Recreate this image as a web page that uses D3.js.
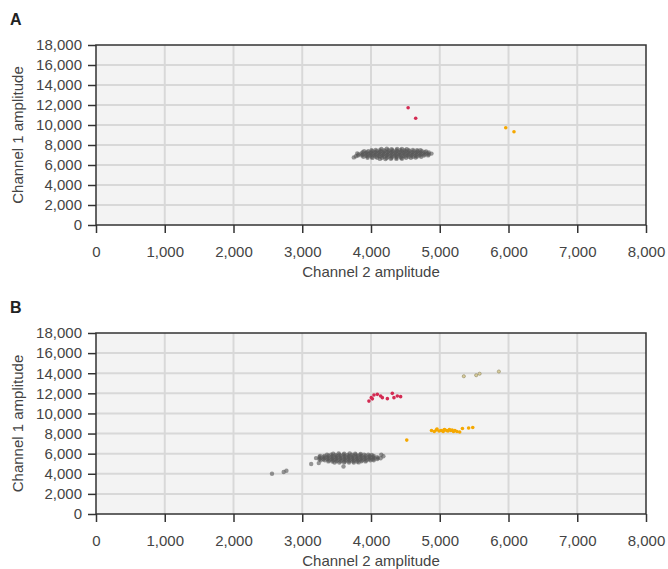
<!DOCTYPE html>
<html><head><meta charset="utf-8">
<script src="https://cdn.jsdelivr.net/npm/d3@7"></script>
<style>
html,body{margin:0;padding:0;background:#fff;}
svg{display:block;font-family:"Liberation Sans",Arial,Helvetica,sans-serif;}
</style></head>
<body><svg id="chart" width="668" height="569"></svg>
<script>
const xTicks = [0,1000,2000,3000,4000,5000,6000,7000,8000];
const yTicks = [0,2000,4000,6000,8000,10000,12000,14000,16000,18000];
const xLabel = "Channel 2 amplitude";
const yLabel = "Channel 1 amplitude";

const aGrey = [
 [4150,7600],[4230,7620],[4300,7590],[4380,7610],[4450,7600],[4520,7580],
 [4010,7480],[4070,7500],[4130,7490],[4190,7480],[4250,7500],[4310,7490],[4370,7480],[4430,7500],[4490,7490],[4550,7480],[4610,7500],[4670,7490],[4720,7470],
 [3900,7380],[3960,7370],[4020,7390],[4080,7380],[4140,7370],[4200,7390],[4260,7380],[4320,7370],[4380,7390],[4440,7380],[4500,7370],[4560,7390],[4620,7380],[4680,7370],[4740,7390],[4800,7360],
 [3880,7270],[3940,7280],[4000,7260],[4060,7270],[4120,7280],[4180,7260],[4240,7270],[4300,7280],[4360,7260],[4420,7270],[4480,7280],[4540,7260],[4600,7270],[4660,7280],[4720,7260],[4780,7270],[4840,7260],
 [3800,7160],[3860,7150],[3920,7170],[3980,7160],[4040,7150],[4100,7170],[4160,7160],[4220,7150],[4280,7170],[4340,7160],[4400,7150],[4460,7170],[4520,7160],[4580,7150],[4640,7170],[4700,7160],[4760,7150],[4820,7160],[4880,7140],
 [3820,7050],[3880,7040],[3940,7060],[4000,7050],[4060,7040],[4120,7060],[4180,7050],[4240,7040],[4300,7060],[4360,7050],[4420,7040],[4480,7060],[4540,7050],[4600,7040],[4660,7060],[4720,7050],[4780,7040],[4840,7060],
 [3810,6940],[3870,6950],[3930,6930],[3990,6940],[4050,6950],[4110,6930],[4170,6940],[4230,6950],[4290,6930],[4350,6940],[4410,6950],[4470,6930],[4530,6940],[4590,6950],[4650,6930],[4710,6940],[4770,6950],[4830,6960],
 [3890,6830],[3950,6840],[4010,6820],[4070,6830],[4130,6840],[4190,6820],[4250,6830],[4310,6840],[4370,6820],[4430,6830],[4490,6840],[4550,6820],[4610,6830],[4670,6840],[4730,6830],
 [3950,6720],[4020,6710],[4090,6730],[4160,6720],[4230,6700],[4300,6720],[4370,6730],[4440,6710],[4510,6720],[4580,6730],[4650,6740],
 [4130,6610],[4210,6600],[4290,6620],[4370,6610],[4450,6620],
 [3750,6760],[3780,6880]
];
const aRed = [[4540,11730],[4650,10680]];
const aOrange = [[5960,9720],[6080,9320]];
const aOlive = [];

const bGrey = [
 [3450,6000],[3530,6020],[3610,5990],[3690,6010],[3770,6000],[3850,5980],
 [3360,5890],[3420,5900],[3480,5880],[3540,5890],[3600,5900],[3660,5880],[3720,5890],[3780,5900],[3840,5880],[3900,5890],[3960,5900],[4010,5880],
 [3260,5780],[3320,5770],[3380,5790],[3440,5780],[3500,5770],[3560,5790],[3620,5780],[3680,5770],[3740,5790],[3800,5780],[3860,5770],[3920,5790],[3980,5780],[4040,5770],
 [3250,5670],[3310,5680],[3370,5660],[3430,5670],[3490,5680],[3550,5660],[3610,5670],[3670,5680],[3730,5660],[3790,5670],[3850,5680],[3910,5660],[3970,5670],[4030,5680],[4090,5660],
 [3200,5560],[3260,5550],[3320,5570],[3380,5560],[3440,5550],[3500,5570],[3560,5560],[3620,5550],[3680,5570],[3740,5560],[3800,5550],[3860,5570],[3920,5560],[3980,5550],[4040,5570],[4100,5560],[4140,5550],
 [3250,5450],[3310,5440],[3370,5460],[3430,5450],[3490,5440],[3550,5460],[3610,5450],[3670,5440],[3730,5460],[3790,5450],[3850,5440],[3910,5460],[3970,5450],[4030,5440],[4090,5460],
 [3270,5340],[3330,5350],[3390,5330],[3450,5340],[3510,5350],[3570,5330],[3630,5340],[3690,5350],[3750,5330],[3810,5340],[3870,5350],[3930,5330],[3990,5340],[4040,5350],
 [3380,5230],[3440,5220],[3500,5240],[3560,5230],[3620,5220],[3680,5240],[3740,5230],[3800,5220],[3860,5240],[3920,5230],
 [3470,5120],[3540,5110],[3610,5130],[3680,5120],[3750,5110],[3820,5130],
 [3600,4730],[3130,4970],[3240,5060],[2560,4000],[2730,4170],[2770,4300],[4150,5900],[4180,5750]
];
const bRed = [[3970,11230],[4004,11570],[4043,11830],[4092,11900],[4140,11730],[4165,11570],[4238,11470],[4310,12000],[4334,11570],[4383,11730],[4431,11670],[4020,11450]];
const bOrange = [[4880,8300],[4920,8200],[4950,8350],[4990,8250],[5020,8300],[5050,8200],[5070,8400],[5100,8300],[5120,8250],[5140,8400],[5160,8300],[5180,8350],[5200,8200],[5220,8300],[5250,8200],[5290,8150],[5330,8500],[5420,8550],[5480,8600],[4520,7350],[4960,8450],[5060,8350]];
const bOlive = [[5350,13700],[5530,13800],[5580,13950],[5860,14170]];

const svg = d3.select("#chart");
const left = 96, right = 646;
const x = d3.scaleLinear().domain([0,8000]).range([left,right]);

function panel(label, top, bottom, grey, red, orange, olive){
  const y = d3.scaleLinear().domain([0,18000]).range([bottom,top]);
  const g = svg.append("g");
  g.append("text").attr("x",10).attr("y",top-20).text(label)
    .attr("font-size",16).attr("font-weight","bold").attr("fill","#222");
  g.append("rect").attr("x",left).attr("y",top).attr("width",right-left).attr("height",bottom-top).attr("fill","#f3f3f3");
  g.selectAll(".vg").data(xTicks.slice(1,-1)).enter().append("line")
    .attr("x1",d=>x(d)).attr("x2",d=>x(d)).attr("y1",top).attr("y2",bottom)
    .attr("stroke","#d8d8d8").attr("stroke-width",2);
  g.selectAll(".hg").data(yTicks.slice(1,-1)).enter().append("line")
    .attr("y1",d=>y(d)).attr("y2",d=>y(d)).attr("x1",left).attr("x2",right)
    .attr("stroke","#d8d8d8").attr("stroke-width",2);
  const dot = (data, fill, stroke, r, op) => g.append("g").selectAll("circle").data(data).enter().append("circle")
    .attr("cx",d=>x(d[0])).attr("cy",d=>y(d[1])).attr("r",r)
    .attr("fill",fill).attr("stroke",stroke).attr("stroke-width",0.6).attr("fill-opacity",op);
  dot(grey, "#555555", "none", 2.2, 0.6);
  dot(olive, "#d8cc9a", "#8f8660", 1.6, 1);
  dot(orange, "#f5a800", "none", 1.8, 1);
  dot(red, "#d32a52", "none", 1.8, 1);
  g.append("rect").attr("x",left).attr("y",top).attr("width",right-left).attr("height",bottom-top)
    .attr("fill","none").attr("stroke","#333").attr("stroke-width",1.5);
  const ya = g.append("g").attr("transform",`translate(${left},0)`)
    .call(d3.axisLeft(y).tickValues(yTicks).tickSize(8).tickSizeOuter(0).tickPadding(6).tickFormat(d3.format(",")));
  const xa = g.append("g").attr("transform",`translate(0,${bottom})`)
    .call(d3.axisBottom(x).tickValues(xTicks).tickSize(8).tickSizeOuter(0).tickPadding(13).tickFormat(d3.format(",")));
  [ya,xa].forEach(a=>{
    a.select(".domain").remove();
    a.selectAll("line").attr("stroke","#333").attr("stroke-width",1.5);
    a.selectAll("text").attr("font-size",15).attr("fill","#444").attr("font-family","inherit");
  });
  g.append("text").attr("x",(left+right)/2).attr("y",bottom+52).attr("text-anchor","middle")
    .attr("font-size",15).attr("fill","#444").text(xLabel);
  g.append("text").attr("transform",`translate(23,${(top+bottom)/2}) rotate(-90)`).attr("text-anchor","middle")
    .attr("font-size",15).attr("fill","#444").text(yLabel);
}
panel("A", 45, 225, aGrey, aRed, aOrange, aOlive);
panel("B", 333, 514, bGrey, bRed, bOrange, bOlive);
</script></body></html>
